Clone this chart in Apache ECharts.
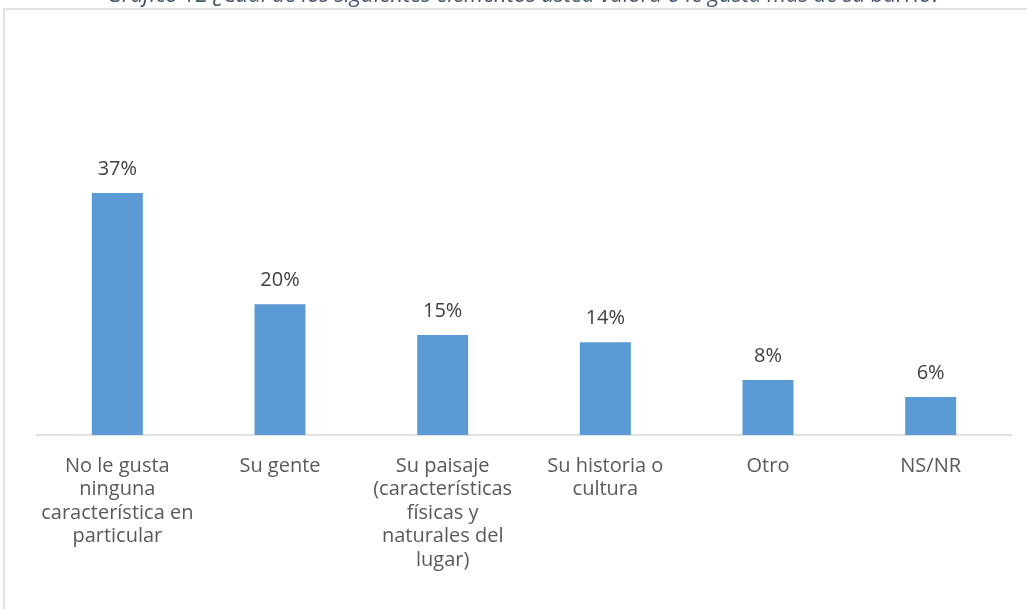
<!DOCTYPE html>
<html>
<head>
<meta charset="utf-8">
<script src="https://cdn.jsdelivr.net/npm/echarts@6/dist/echarts.min.js"></script>
<style>
  html, body { margin: 0; padding: 0; background: #fff; }
  #grafico { width: 1027px; height: 609px; }
</style>
</head>
<body>
<div id="grafico"></div>
<script>
// Dados
const titulo = 'Gráfico 12 ¿Cuál de los siguientes elementos usted valora o le gusta más de su barrio?';
const categorias = [
    'No le gusta\nninguna\ncaracterística en\nparticular',
    'Su gente',
    'Su paisaje\n(características\nfísicas y\nnaturales del\nlugar)',
    'Su historia o\ncultura',
    'Otro',
    'NS/NR'
];
const valores = [37, 20, 15.3, 14.2, 8.4, 5.8];

const fonte = '"Open Sans", sans-serif';
const grafico = echarts.init(document.getElementById('grafico'));

const option = {
    animation: false,
    graphic: [
        {
            type: 'rect',
            shape: { x: 4, y: 9, width: 1100, height: 700 },
            style: { fill: 'none', stroke: '#D9D9D9', lineWidth: 1.5 },
            silent: true
        },
        {
            type: 'text',
            x: 524, y: 7,
            style: {
                text: titulo,
                fill: '#44546A',
                font: 'italic 22px ' + fonte,
                textAlign: 'center',
                textVerticalAlign: 'bottom'
            },
            silent: true
        }
    ],
    grid: { left: 36, right: 15, top: 108, bottom: 174 },
    xAxis: {
        type: 'category',
        data: categorias,
        axisLine: { lineStyle: { color: '#D9D9D9', width: 1.5 } },
        axisTick: { show: false },
        axisLabel: {
            interval: 0,
            color: '#595959',
            fontFamily: fonte,
            fontSize: 20,
            lineHeight: 23.6,
            margin: 19,
            align: 'center',
            verticalAlign: 'top'
        }
    },
    yAxis: {
        type: 'value',
        min: 0,
        max: 50,
        show: false,
        splitLine: { show: false }
    },
    series: [{
        type: 'bar',
        data: valores,
        barWidth: 51,
        itemStyle: { color: '#5B9BD5' },
        label: {
            show: true,
            position: 'top',
            distance: 14,
            color: '#404040',
            fontFamily: fonte,
            fontSize: 20,
            formatter: p => Math.round(p.value) + '%'
        }
    }]
};

grafico.setOption(option);
</script>
</body>
</html>
